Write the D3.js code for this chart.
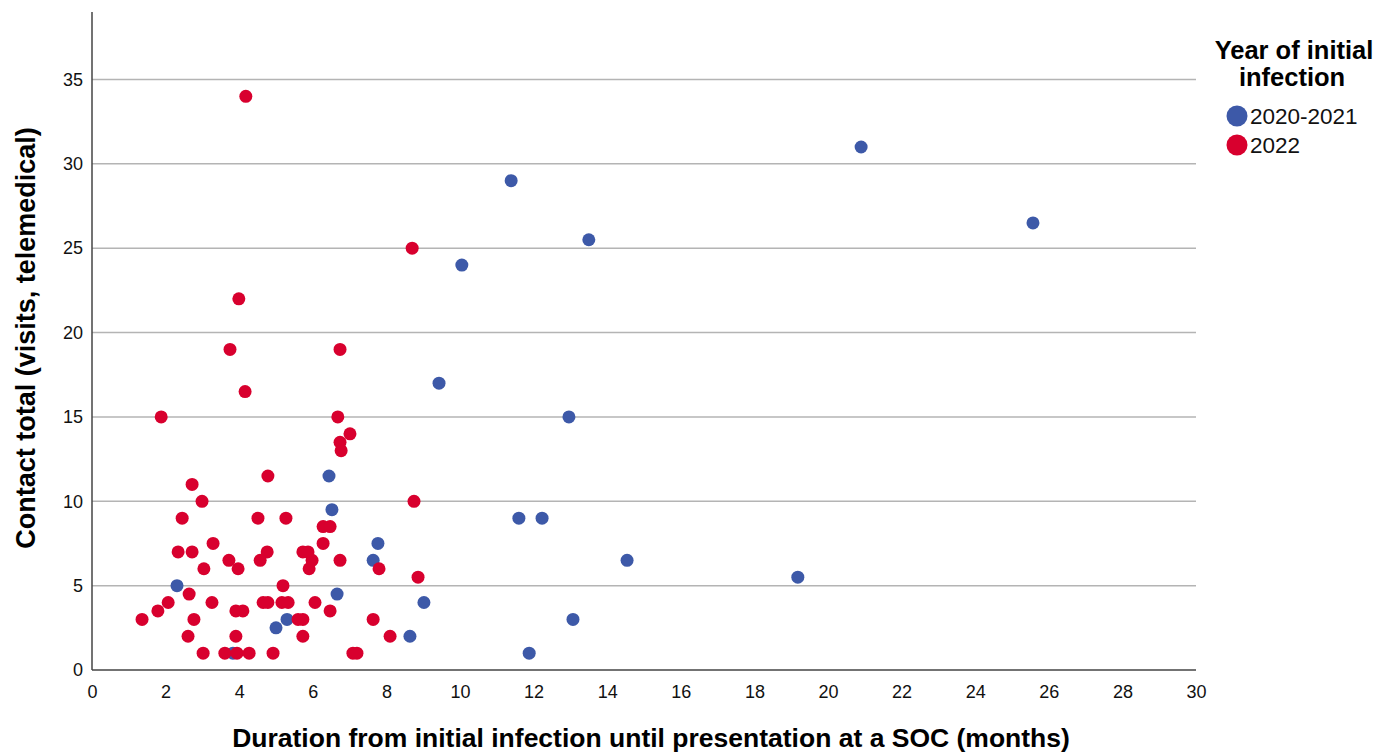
<!DOCTYPE html>
<html>
<head>
<meta charset="utf-8">
<script src="https://cdn.jsdelivr.net/npm/d3@7"></script>
<style>
  body { margin: 0; background: #fff; }
  svg { font-family: "Liberation Sans", Arial, sans-serif; }
  .grid-line { stroke: #b4b4b4; stroke-width: 1.5; }
</style>
</head>
<body>
<svg id="chart" width="1378" height="754"></svg>
<script>
// series: [months, contacts]
var groups = ["2020-2021", "2022"];
var colors = ["#3d59a8", "#d8002e"];

var early = [
    [20.9, 31], [25.57, 26.5], [11.39, 29], [13.5, 25.5], [10.05, 24], [9.43, 17],
    [12.96, 15], [6.44, 11.5], [6.52, 9.5], [11.6, 9], [12.23, 9], [7.77, 7.5],
    [7.64, 6.5], [14.54, 6.5], [19.18, 5.5], [2.31, 5], [6.66, 4.5], [9.02, 4],
    [5.3, 3], [13.07, 3], [5.0, 2.5], [8.64, 2], [11.88, 1], [3.83, 1]
];

var late = [
    [4.18, 34], [8.7, 25], [3.99, 22], [3.75, 19], [6.74, 19], [4.16, 16.5],
    [1.88, 15], [6.68, 15], [7.01, 14], [6.74, 13.5], [6.77, 13], [4.78, 11.5],
    [2.72, 11], [2.99, 10], [8.75, 10], [2.45, 9], [4.51, 9], [5.27, 9],
    [6.28, 8.5], [6.47, 8.5], [3.29, 7.5], [6.28, 7.5],
    [2.34, 7], [2.72, 7], [4.76, 7], [5.73, 7], [5.87, 7],
    [3.72, 6.5], [4.57, 6.5], [5.98, 6.5], [6.74, 6.5],
    [3.04, 6], [3.97, 6], [5.9, 6], [7.8, 6], [8.86, 5.5], [5.19, 5], [2.64, 4.5],
    [2.07, 4], [3.26, 4], [4.65, 4], [4.78, 4], [5.16, 4], [5.33, 4], [6.06, 4],
    [1.79, 3.5], [3.91, 3.5], [4.1, 3.5], [6.47, 3.5],
    [1.36, 3], [2.77, 3], [5.6, 3], [5.73, 3], [7.64, 3],
    [2.61, 2], [3.91, 2], [5.73, 2], [8.1, 2],
    [3.02, 1], [3.61, 1], [3.94, 1], [4.27, 1], [4.92, 1], [7.09, 1], [7.2, 1]
];

var xTicks = d3.range(0, 31, 2);
var yTicks = d3.range(0, 36, 5);

var svg = d3.select("#chart");
var plotLeft = 92, plotRight = 1196, plotTop = 12, plotBottom = 670;

var x = d3.scaleLinear().domain([0, 30]).range([plotLeft, plotRight]);
var y = d3.scaleLinear().domain([0, 39]).range([plotBottom, plotTop]);

//horizontal grid
svg.append("g").selectAll("line").data(yTicks.filter(function (d) { return d > 0; }))
    .enter().append("line").attr("class", "grid-line")
    .attr("x1", plotLeft).attr("x2", plotRight)
    .attr("y1", function (d) { return y(d); }).attr("y2", function (d) { return y(d); });

//axes
var xAxis = svg.append("g").attr("transform", "translate(0," + plotBottom + ")")
    .call(d3.axisBottom(x).tickValues(xTicks).tickSize(0).tickPadding(15));
var yAxis = svg.append("g").attr("transform", "translate(" + plotLeft + ",0)")
    .call(d3.axisLeft(y).tickValues(yTicks).tickSize(0).tickPadding(9));
[xAxis, yAxis].forEach(function (a) {
    a.select(".domain").attr("stroke", "#444").attr("stroke-width", 1.5);
    a.selectAll("text").attr("font-size", 18).attr("fill", "#111")
        .attr("font-family", "Liberation Sans, Arial, sans-serif");
});
xAxis.select(".domain").attr("d", "M" + plotLeft + ",0H" + plotRight);
yAxis.select(".domain").attr("d", "M0," + plotTop + "V" + plotBottom);

//points
var series = [early, late];
series.forEach(function (data, i) {
    svg.append("g").selectAll("circle").data(data).enter().append("circle")
        .attr("cx", function (d) { return x(d[0]); })
        .attr("cy", function (d) { return y(d[1]); })
        .attr("r", 6.5)
        .attr("fill", colors[i]);
});

//axis titles
svg.append("text").attr("x", 651).attr("y", 747)
    .attr("text-anchor", "middle").attr("font-size", 26.5).attr("font-weight", "bold")
    .text("Duration from initial infection until presentation at a SOC (months)");
svg.append("text").attr("transform", "translate(35,338) rotate(-90)")
    .attr("text-anchor", "middle").attr("font-size", 27).attr("font-weight", "bold")
    .text("Contact total (visits, telemedical)");

//legend
var legend = svg.append("g");
legend.append("text").attr("x", 1294).attr("y", 59).attr("text-anchor", "middle")
    .attr("font-size", 25.5).attr("font-weight", "bold").text("Year of initial");
legend.append("text").attr("x", 1292).attr("y", 86).attr("text-anchor", "middle")
    .attr("font-size", 25.5).attr("font-weight", "bold").text("infection");
groups.forEach(function (g, i) {
    var cy = 116 + i * 29;
    legend.append("circle").attr("cx", 1237).attr("cy", cy).attr("r", 10.5).attr("fill", colors[i]);
    legend.append("text").attr("x", 1250).attr("y", cy + 8).attr("font-size", 22.5)
        .attr("fill", "#111").text(g);
});
</script>
</body>
</html>
